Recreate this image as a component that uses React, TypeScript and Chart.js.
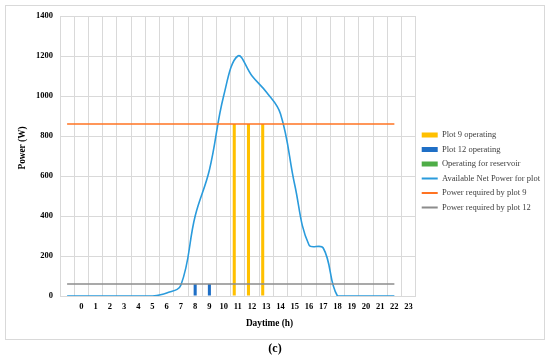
import React, { useEffect, useRef } from 'react';
import { Chart, registerables } from 'chart.js';

Chart.register(...registerables);

// Category labels ('' is the blank first slot, then hours 0..23)
const hours = ['', '0', '1', '2', '3', '4', '5', '6', '7', '8', '9', '10', '11', '12', '13', '14', '15', '16', '17', '18', '19', '20', '21', '22', '23'];

// Bars
const plot9Operating = [null, null, null, null, null, null, null, null, null, null, null, null, 860, 860, 860, null, null, null, null, null, null, null, null, null, null];
const plot12Operating = [null, null, null, null, null, null, null, null, null, 60, 60, null, null, null, null, null, null, null, null, null, null, null, null, null, null];
const reservoirOperating: (number | null)[] = [];

// Lines
const availablePower = [0, 0, 0, 0, 0, 0, 0, 15, 55, 400, 630, 1000, 1200, 1100, 1020, 910, 555, 255, 240, 0, 0, 0, 0, 0];
const plot9Required = [860, 860, 860, 860, 860, 860, 860, 860, 860, 860, 860, 860, 860, 860, 860, 860, 860, 860, 860, 860, 860, 860, 860, 860];
const plot12Required = [60, 60, 60, 60, 60, 60, 60, 60, 60, 60, 60, 60, 60, 60, 60, 60, 60, 60, 60, 60, 60, 60, 60, 60];

const yMin = 0;
const yMax = 1400;
const yStep = 200;

const SERIF = "'Liberation Serif', 'Times New Roman', serif";
const GRID = '#D9D9D9';

const legendOrder = [0, 1, 2, 3, 4, 5];

const decorPlugin = {
  id: 'decor',
  beforeDraw(chart: any) {
    const ctx = chart.ctx;
    ctx.save();
    ctx.fillStyle = '#ffffff';
    ctx.fillRect(0, 0, chart.width, chart.height);
    ctx.strokeStyle = GRID;
    ctx.lineWidth = 1;
    ctx.strokeRect(5.5, 5.5, 539, 334);
    ctx.restore();
  },
  afterDraw(chart: any) {
    const ctx = chart.ctx;
    ctx.save();
    ctx.fillStyle = '#000000';
    ctx.textAlign = 'center';
    ctx.textBaseline = 'middle';
    ctx.font = `bold 9.3px ${SERIF}`;
    ctx.translate(23, 148);
    ctx.rotate(-Math.PI / 2);
    ctx.fillText('Power (W)', 0, 0);
    ctx.restore();

    ctx.save();
    ctx.fillStyle = '#000000';
    ctx.textAlign = 'center';
    ctx.textBaseline = 'middle';
    ctx.font = `bold 9.3px ${SERIF}`;
    ctx.fillText('Daytime (h)', 269.5, 324);
    ctx.font = `bold 12px ${SERIF}`;
    ctx.fillText('(c)', 275, 349);
    ctx.restore();
  },
};

export default function App() {
  const canvasRef = useRef<HTMLCanvasElement | null>(null);

  useEffect(() => {
    if (!canvasRef.current) return;
    const chart = new Chart(canvasRef.current, {
      type: 'bar',
      data: {
        labels: hours,
        datasets: [
          {
            type: 'bar',
            label: 'Plot 9 operating',
            data: plot9Operating,
            backgroundColor: '#FFC000',
            categoryPercentage: 0.76,
            barPercentage: 0.85,
            order: 2,
          },
          {
            type: 'bar',
            label: 'Plot 12 operating',
            data: plot12Operating,
            backgroundColor: '#1F6FC6',
            categoryPercentage: 0.76,
            barPercentage: 0.85,
            order: 2,
          },
          {
            type: 'bar',
            label: 'Operating for reservoir',
            data: reservoirOperating,
            backgroundColor: '#4EAD47',
            categoryPercentage: 0.76,
            barPercentage: 0.85,
            order: 2,
          },
          {
            type: 'line',
            label: 'Available Net Power for plot',
            data: availablePower,
            borderColor: '#2A9BDC',
            backgroundColor: '#2A9BDC',
            borderWidth: 1.6,
            pointRadius: 0,
            tension: 0.4,
            fill: false,
            order: 1,
          },
          {
            type: 'line',
            label: 'Power required by plot 9',
            data: plot9Required,
            borderColor: '#FF7322',
            backgroundColor: '#FF7322',
            borderWidth: 1.6,
            pointRadius: 0,
            tension: 0,
            fill: false,
            order: 0,
          },
          {
            type: 'line',
            label: 'Power required by plot 12',
            data: plot12Required,
            borderColor: '#8C8C8C',
            backgroundColor: '#8C8C8C',
            borderWidth: 1.3,
            pointRadius: 0,
            tension: 0,
            fill: false,
            order: 0,
          },
        ] as any,
      },
      options: {
        responsive: false,
        animation: false,
        events: [],
        layout: { padding: { top: 16, left: 0, right: 0, bottom: 32.5 } },
        plugins: {
          tooltip: { enabled: false },
          legend: {
            position: 'right',
            maxWidth: 134.3,
            labels: {
              usePointStyle: true,
              pointStyleWidth: 16,
              boxHeight: 5,
              padding: 6,
              color: '#404040',
              font: { family: SERIF, size: 8.5 },
              generateLabels: (c: any) =>
                legendOrder.map((i) => {
                  const ds = c.data.datasets[i];
                  const isBar = ds.type === 'bar';
                  return {
                    text: ds.label,
                    fillStyle: ds.backgroundColor,
                    strokeStyle: isBar ? ds.backgroundColor : ds.borderColor,
                    lineWidth: isBar ? 0 : 2,
                    pointStyle: isBar ? 'rect' : 'line',
                    hidden: false,
                    datasetIndex: i,
                    fontColor: '#404040',
                  };
                }),
            },
          } as any,
        },
        scales: {
          x: {
            offset: true,
            grid: { color: GRID, offset: true, drawTicks: false },
            border: { color: GRID },
            ticks: {
              autoSkip: false,
              maxRotation: 0,
              padding: 6,
              color: '#000000',
              font: { family: SERIF, size: 8.5, weight: 'bold' },
            },
            afterFit: (s: any) => {
              s.height = 30.5;
            },
          },
          y: {
            min: yMin,
            max: yMax,
            grid: { color: GRID, drawTicks: false },
            border: { color: GRID },
            ticks: {
              stepSize: yStep,
              padding: 7,
              color: '#000000',
              font: { family: SERIF, size: 8.5, weight: 'bold' },
              callback: (v: any) => String(v),
            },
            afterFit: (s: any) => {
              s.width = 60;
            },
          },
        },
      } as any,
      plugins: [decorPlugin],
    });
    return () => chart.destroy();
  }, []);

  return (
    <div style={{ position: 'absolute', left: 0, top: 0, width: 550, height: 359, background: '#fff' }}>
      <canvas ref={canvasRef} width={550} height={359} style={{ display: 'block' }} />
    </div>
  );
}
